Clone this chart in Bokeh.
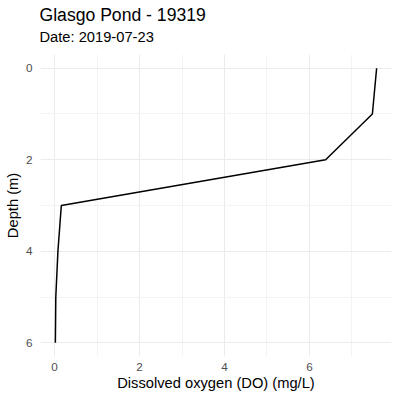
from bokeh.plotting import figure
from bokeh.models import Range1d, FixedTicker, Title
from bokeh.embed import file_html
from bokeh.resources import INLINE

depth_m = [0, 1, 2, 3, 4, 5, 6]
do_mgl = [7.58, 7.48, 6.38, 0.16, 0.08, 0.03, 0.02]
x_ticks = [0, 2, 4, 6]
x_minor = [1, 3, 5, 7]
y_ticks = [0, 2, 4, 6]
y_minor = [1, 3, 5]
title_text = "Glasgo Pond - 19319"
subtitle_text = "Date: 2019-07-23"
FONT = "Liberation Sans"

p = figure(width=400, height=400, output_backend="svg", toolbar_location=None,
           x_range=Range1d(-0.33, 7.93), y_range=Range1d(6.3, -0.3),
           min_border_left=40, min_border_right=9, min_border_top=54, min_border_bottom=44,
           title=None)
p.outline_line_color = None
p.background_fill_color = "white"
p.border_fill_color = "white"

p.add_layout(Title(text=subtitle_text, text_font=FONT, text_font_size="14.7px",
                   text_font_style="normal", text_color="black", offset=-1, standoff=20), "above")
p.add_layout(Title(text=title_text, text_font=FONT, text_font_size="17.6px",
                   text_font_style="normal", text_color="black", offset=-1, standoff=-17), "above")

p.line(do_mgl, depth_m, line_color="black", line_width=1.5)

p.xaxis.ticker = FixedTicker(ticks=x_ticks, minor_ticks=x_minor)
p.yaxis.ticker = FixedTicker(ticks=y_ticks, minor_ticks=y_minor)
for ax in (p.xaxis, p.yaxis):
    ax.axis_line_color = None
    ax.major_tick_line_color = None
    ax.minor_tick_line_color = None
    ax.major_tick_out = 0
    ax.major_tick_in = 0
    ax.minor_tick_out = 0
    ax.minor_tick_in = 0
    ax.major_label_text_color = "#4d4d4d"
    ax.major_label_text_font = FONT
    ax.major_label_text_font_size = "11.7px"
    ax.axis_label_text_font = FONT
    ax.axis_label_text_font_size = "14.7px"
    ax.axis_label_text_font_style = "normal"
    ax.axis_label_text_color = "black"
p.xaxis.axis_label = "Dissolved oxygen (DO) (mg/L)"
p.yaxis.axis_label = "Depth (m)"
p.xaxis.major_label_standoff = 6
p.xaxis.axis_label_standoff = 1
p.yaxis.major_label_standoff = 8
p.yaxis.axis_label_standoff = 2

for g in (p.xgrid, p.ygrid):
    g.grid_line_color = "#ebebeb"
    g.grid_line_width = 1
    g.minor_grid_line_color = "#f3f3f3"
    g.minor_grid_line_width = 1

open("out.html", "w").write(file_html(p, INLINE))
